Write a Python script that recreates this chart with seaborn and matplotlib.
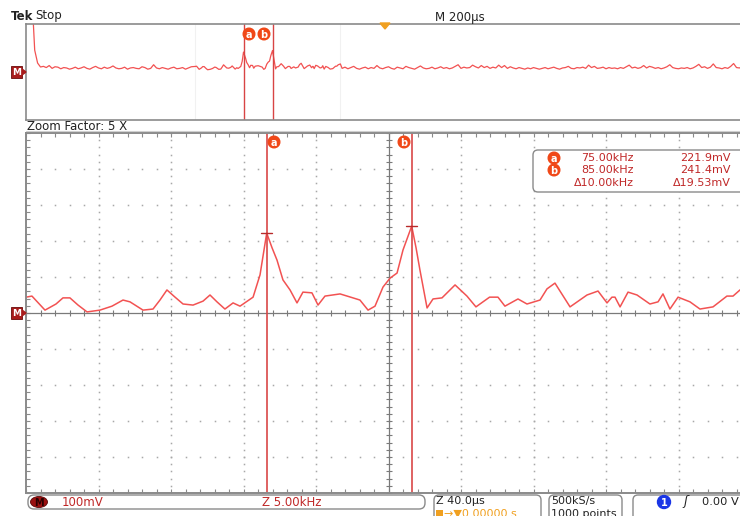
import numpy as np
import pandas as pd
import matplotlib
matplotlib.use("Agg")
import matplotlib.pyplot as plt
import seaborn as sns
from matplotlib.patches import FancyBboxPatch, Rectangle, Circle, Polygon, Ellipse

# zoomed FFT trace (kHz, mV)
zoom_khz = [58.40, 58.81, 59.71, 60.47, 60.95, 61.43, 61.99, 62.61, 63.50, 64.33,
            65.09, 65.57, 66.47, 67.16, 67.64, 68.12, 68.68, 69.23, 69.92, 70.61,
            71.09, 71.57, 72.12, 72.68, 73.16, 74.06, 74.54, 75.00, 75.37, 75.71,
            76.12, 76.61, 77.09, 77.50, 78.12, 78.54, 79.02, 80.06, 80.95, 81.43,
            81.99, 82.47, 83.02, 83.51, 83.99, 84.40, 85.00, 85.30, 85.57, 86.06,
            86.47, 87.09, 87.99, 88.81, 89.43, 90.37, 90.95, 91.43, 92.33, 92.95,
            93.85, 94.33, 94.88, 95.92, 97.09, 97.85, 98.47, 98.81, 99.02, 99.37,
            99.92, 100.54, 101.43, 101.99, 102.33, 102.81, 103.37, 104.19, 104.88, 105.78,
            106.74, 107.16, 107.64, 108.40]
zoom_mv = [44, 47, 8, 25, 42, 42, 22, 3, 8, 19,
           36, 31, 8, 11, 36, 64, 44, 25, 22, 33,
           50, 31, 11, 28, 19, 44, 106, 221.9, 181, 147,
           92, 64, 28, 58, 56, 22, 47, 53, 42, 36,
           8, 19, 72, 97, 111, 175, 241.4, 181, 119, 14,
           39, 42, 78, 47, 17, 44, 44, 19, 39, 25,
           36, 67, 83, 17, 50, 61, 28, 44, 44, 17,
           58, 50, 25, 31, 53, 11, 44, 31, 11, 17,
           47, 47, 64, 75]

# overview trace outside the zoom window
start_khz = [0, 2, 2.5, 3, 4, 5]
start_mv = [3000, 1500, 600, 246, 86, 37]
left_mv = [45, 30, 55, 20, 40, 35, 15, 30, 25, 10,
           20, 35, 15, 25, 40, 20, 10, 30, 45, 25,
           15, 35, 20, 30, 50, 25, 15, 20, 35, 10,
           25, 30, 20, 15, 40, 30, 10, 20, 65, 25,
           15, 30, 20, 10, 25, 35, 15, 20, 30, 10,
           25, 40]          # 6 .. 57 kHz
right_mv = [20, 35, 15, 30, 45, 20, 10, 25, 35, 15,
            30, 20, 55, 25, 15, 30, 40, 20, 10, 35,
            25, 15, 45, 30, 20, 10, 30, 50, 25, 15,
            20, 35, 15, 25, 40, 20, 30, 15, 25, 45,
            65, 20, 35, 25, 30, 60, 40, 25, 55, 30,
            45, 20, 35, 25, 60, 30, 55, 20, 40, 25,
            15, 30, 20, 10, 25, 15, 30, 20, 10, 20,
            30, 15, 25, 35, 20, 10, 25, 30, 45, 20,
            15, 30, 25, 35, 20, 60, 30, 45, 20, 25,
            35, 15, 30, 20, 25, 15, 30, 20, 40, 60,
            25, 35, 20, 30, 55, 25, 45, 35, 20, 30,
            15, 25, 40, 65, 30, 20, 15, 25, 20, 30,
            15, 25, 45, 70, 30, 40, 20, 35, 75, 30,
            25, 15, 30, 20, 45, 80, 30, 25, 40, 20,
            30, 25]         # 109 .. 250 kHz

cursor_names = ["a", "b"]
cursor_khz = [75.0, 85.0]
cursor_mv = [221.9, 241.4]

zoom_lo = 58.4
zoom_span = 50.0

TRACE = "#f25252"
CURSOR = "#d84444"
FRAME = "#8a8a8a"
GRIDC = "#a8a8a8"
BADGE = "#f04818"
TXTRED = "#c02828"

df_zoom = pd.DataFrame({"khz": zoom_khz, "mv": zoom_mv})
df_over = pd.DataFrame({
    "khz": np.concatenate([start_khz, np.arange(6, 58), zoom_khz, np.arange(109, 251)]),
    "mv": np.concatenate([start_mv, left_mv, zoom_mv, right_mv]),
})

sns.set_theme(style="white")
plt.rcParams["font.family"] = ["DejaVu Sans"]

W, H = 740, 516
fig = plt.figure(figsize=(7.4, 5.16), dpi=100)
fig.patch.set_facecolor("white")


def px_axes(x0, y0, x1, y1):
    return fig.add_axes([x0 / W, 1 - y1 / H, (x1 - x0) / W, (y1 - y0) / H])


ax_top = px_axes(26, 24, 751, 120)
ax_main = px_axes(26, 133, 751, 493)

# ---- main (zoomed) window
ax = ax_main
ax.set_xlim(zoom_lo, zoom_lo + zoom_span)
ax.set_ylim(-500, 500)
for s in ["left", "top", "bottom"]:
    ax.spines[s].set_color(FRAME)
    ax.spines[s].set_linewidth(1.4)
ax.spines["right"].set_visible(False)

ax.set_xticks(zoom_lo + np.arange(0, 51, 1))
ax.set_yticks(np.arange(-500, 501, 20))
ax.tick_params(axis="x", direction="in", length=3, width=0.8, color=FRAME,
               top=True, bottom=True, labelbottom=False)
ax.tick_params(axis="y", direction="in", length=3, width=0.8, color=FRAME,
               left=True, right=False, labelleft=False)

xdots = zoom_lo + np.arange(0, 50.01, 1)
ydots = np.arange(-500, 501, 20)
for k in range(1, 10):
    if k == 5:
        continue
    ax.plot(np.full(len(ydots), zoom_lo + 5 * k), ydots, ls="none", marker="s",
            ms=1.1, color=GRIDC, mew=0)
    ax.plot(xdots, np.full(len(xdots), -500 + 100 * k), ls="none", marker="s",
            ms=1.1, color=GRIDC, mew=0)

xc = zoom_lo + zoom_span / 2
ax.axvline(xc, color="#7a7a7a", lw=0.9)
ax.axhline(0, color="#7a7a7a", lw=0.9)
ax.plot(xdots, np.zeros(len(xdots)), ls="none", marker="|", ms=5, mew=0.8, color="#7a7a7a")
ax.plot(np.full(len(ydots), xc), ydots, ls="none", marker="_", ms=5, mew=0.8, color="#7a7a7a")

sns.lineplot(data=df_zoom, x="khz", y="mv", ax=ax, color=TRACE, linewidth=1.1,
             estimator=None, sort=False)
for c, v in zip(cursor_khz, cursor_mv):
    ax.axvline(c, color=CURSOR, lw=1.3, alpha=0.9)
    ax.plot([c - 0.38, c + 0.38], [v, v], color="#b82a2a", lw=1.0)
ax.set_xlabel("")
ax.set_ylabel("")

# ---- overview window
ax = ax_top
ax.set_xlim(0, 250)
ax.set_ylim(-620, 570)
for s in ["left", "top", "bottom"]:
    ax.spines[s].set_color(FRAME)
    ax.spines[s].set_linewidth(1.2)
ax.spines["right"].set_visible(False)
ax.set_xticks([])
ax.set_yticks([])
ax.axvline(zoom_lo, color="#f1f1f1", lw=0.8)
ax.axvline(zoom_lo + zoom_span, color="#f1f1f1", lw=0.8)
sns.lineplot(data=df_over, x="khz", y="mv", ax=ax, color=TRACE, linewidth=0.9,
             estimator=None, sort=False)
for c in cursor_khz:
    ax.axvline(c, color=CURSOR, lw=1.0)
ax.set_xlabel("")
ax.set_ylabel("")

# ---- overlay in pixel coordinates for the scope annotations
ov = fig.add_axes([0, 0, 1, 1])
ov.set_xlim(0, W)
ov.set_ylim(H, 0)
ov.axis("off")

ov.text(11, 17, "Tek", fontsize=8.5, fontweight="bold", va="center", ha="left", color="#222")
ov.text(35, 16, "Stop", fontsize=8.5, va="center", ha="left", color="#222")
ov.text(435, 17, "M 200µs", fontsize=8.5, va="center", ha="left", color="#222")
ov.text(27, 127, "Zoom Factor: 5 X", fontsize=8.5, va="center", ha="left", color="#222")
ov.plot([26, 740], [131, 131], color="#cfcfcf", lw=0.8)
ov.add_patch(Polygon([[380, 23], [390, 23], [385, 29]], closed=True, color="#f0a020"))


def badge(x, y, letter):
    ov.add_patch(Circle((x, y), 5.8, color=BADGE))
    ov.text(x, y + 0.5, letter, fontsize=7, fontweight="bold", color="white",
            ha="center", va="center")


for name, x in zip(cursor_names, [249, 264]):
    badge(x, 34, name)
for name, x in zip(cursor_names, [274, 404]):
    badge(x, 142, name)


def m_marker(y):
    ov.add_patch(Rectangle((11, y - 6), 11, 12, fc="#a81c1c", ec="#6a0a0a", lw=0.6))
    ov.add_patch(Polygon([[22, y - 3], [26, y], [22, y + 3]], closed=True, color="#a81c1c"))
    ov.text(16.5, y + 0.5, "M", fontsize=6.5, fontweight="bold", color="white",
            ha="center", va="center")


m_marker(72)
m_marker(313)

# cursor readout
ov.add_patch(FancyBboxPatch((533, 150), 230, 42, boxstyle="round,pad=0,rounding_size=5",
                            fc="white", ec="#8a8a8a", lw=1.0))
badge(554, 158, "a")
badge(554, 170, "b")
rows = [(158, f"{cursor_khz[0]:.2f}kHz", f"{cursor_mv[0]:.1f}mV"),
        (170, f"{cursor_khz[1]:.2f}kHz", f"{cursor_mv[1]:.1f}mV"),
        (183, f"Δ{cursor_khz[1] - cursor_khz[0]:.2f}kHz",
         f"Δ{cursor_mv[1] - cursor_mv[0] + 0.03:.2f}mV")]
for y, f_txt, v_txt in rows:
    ov.text(634, y, f_txt, fontsize=8, color=TXTRED, ha="right", va="center")
    ov.text(731, y, v_txt, fontsize=8, color=TXTRED, ha="right", va="center")

# status bar
ov.add_patch(FancyBboxPatch((28, 495), 397, 14, boxstyle="round,pad=0,rounding_size=6",
                            fc="white", ec="#8a8a8a", lw=1.0))
ov.add_patch(Ellipse((39, 502), 17, 11, fc="#9a1010", ec="#5a0808", lw=0.6))
ov.text(39, 502.5, "M", fontsize=7, fontweight="bold", color="#2a0000", ha="center", va="center")
ov.text(62, 502, "100mV", fontsize=8.5, color=TXTRED, ha="left", va="center")
ov.text(262, 502, "Z 5.00kHz", fontsize=8.5, color=TXTRED, ha="left", va="center")

for x0, x1 in [(434, 541), (549, 622), (633, 770)]:
    ov.add_patch(FancyBboxPatch((x0, 495), x1 - x0, 30, boxstyle="round,pad=0,rounding_size=5",
                                fc="white", ec="#8a8a8a", lw=1.0))
ov.text(436, 501, "Z 40.0µs", fontsize=8, color="#222", ha="left", va="center")
ov.add_patch(Rectangle((436, 510), 7, 6, fc="#f0a020", lw=0))
ov.text(444, 514, "→▼0.00000 s", fontsize=8, color="#f0a020", ha="left", va="center")
ov.text(551, 501, "500kS/s", fontsize=8, color="#222", ha="left", va="center")
ov.text(551, 514, "1000 points", fontsize=8, color="#222", ha="left", va="center")
ov.add_patch(Circle((664, 502), 6.5, color="#1a36e6"))
ov.text(664, 502.5, "1", fontsize=7, fontweight="bold", color="white", ha="center", va="center")
ov.text(686, 502, "ʃ", fontsize=9, color="#222", ha="center", va="center", style="italic")
ov.text(739, 502, "0.00 V", fontsize=8.2, color="#222", ha="right", va="center")

fig.savefig("out.png", dpi=100, facecolor="white")
